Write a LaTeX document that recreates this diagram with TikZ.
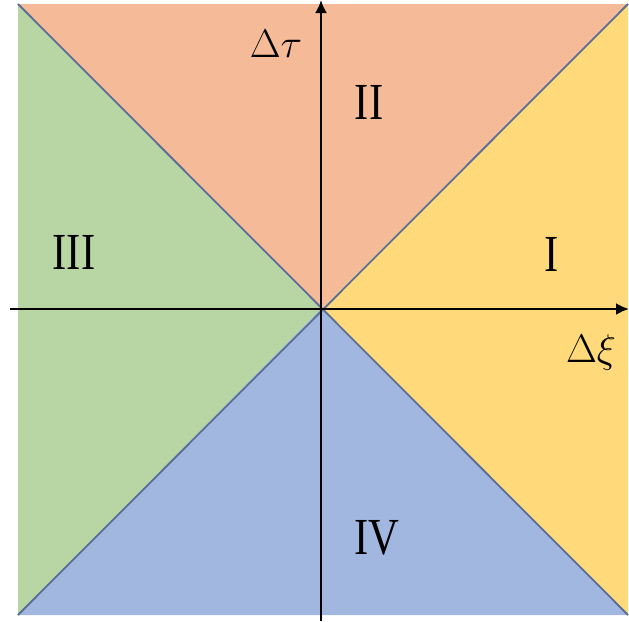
\RequirePackage{fix-cm}
\documentclass[tikz,border=0pt]{standalone}
\usepackage{amsmath,amssymb}
\usepackage{fontspec}
\setmainfont{Liberation Serif}
\newfontfamily\numfont[FakeStretch=0.82]{Liberation Serif}
\usepackage{tikz}
\usetikzlibrary{arrows.meta}
\definecolor{regI}{RGB}{255,217,122}
\definecolor{regII}{RGB}{245,187,152}
\definecolor{regIII}{RGB}{184,214,164}
\definecolor{regIV}{RGB}{161,183,224}
\definecolor{diag}{RGB}{90,110,150}
\tikzset{
  region/.style={draw=diag, line width=1.8pt, line join=round},
  axis/.style={line width=2.4pt, -{Latex[length=13pt,width=12pt]}},
  roman/.style={font=\numfont\fontsize{52}{56}\selectfont, inner sep=0pt},
  axlab/.style={font=\fontsize{40}{44}\selectfont, inner sep=0pt},
}
\begin{document}
\begin{tikzpicture}[x=1pt,y=-1pt]
  \useasboundingbox (0,0) rectangle (629,621);
  \coordinate (tl) at (18,4);
  \coordinate (tr) at (628,4);
  \coordinate (br) at (628,615);
  \coordinate (bl) at (18,615);
  \coordinate (o) at (321,309);
  % four regions
  \fill[regI] (o) -- (tr) -- (br) -- cycle;
  \fill[regII] (o) -- (tl) -- (tr) -- cycle;
  \fill[regIII] (o) -- (tl) -- (bl) -- cycle;
  \fill[regIV] (o) -- (bl) -- (br) -- cycle;
  \draw[region] (tl) -- (br);
  \draw[region] (bl) -- (tr);
  % axes
  \coordinate (xs) at (10,309);
  \coordinate (xe) at (629,309);
  \coordinate (ys) at (321,621);
  \coordinate (ye) at (321,0);
  \draw[axis] (xs) -- (xe);
  \draw[axis] (ys) -- (ye);
  \node[axlab] (tau) at (276,44) {$\Delta\tau$};
  \node[axlab] (xi) at (591,352) {$\Delta\xi$};
  \node[roman] (r1) at (552,254) {I};
  \node[roman] (r2) at (369,102) {II};
  \node[roman] (r3) at (74,252) {III};
  \node[roman] (r4) at (377,538) {IV};
\end{tikzpicture}
\end{document}
